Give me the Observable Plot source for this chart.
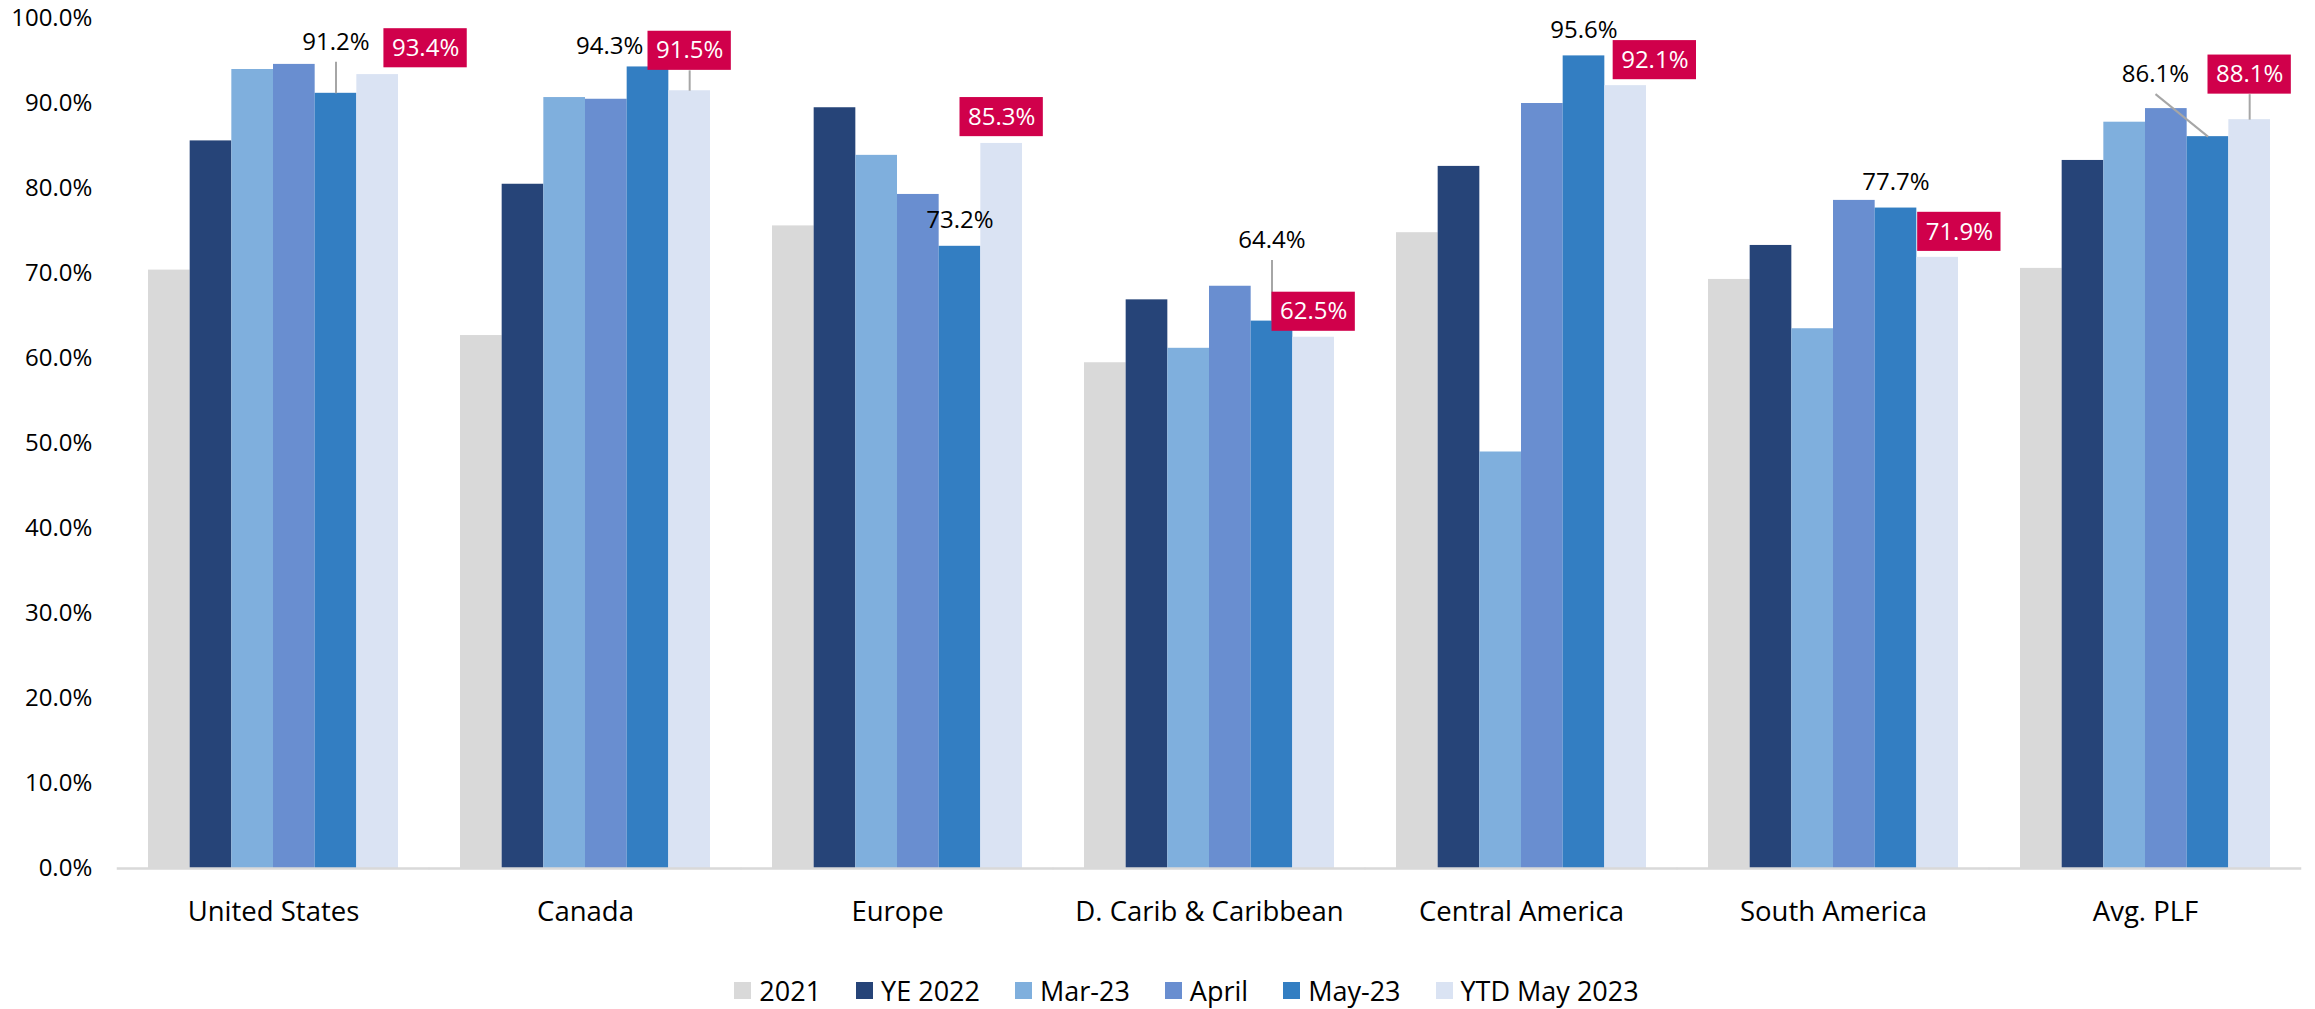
<!DOCTYPE html>
<html>
<head>
<meta charset="utf-8">
<script src="https://cdn.jsdelivr.net/npm/d3@7"></script>
<script src="https://cdn.jsdelivr.net/npm/@observablehq/plot@0.6"></script>
<style>
  html, body { margin: 0; padding: 0; background: #fff; overflow: hidden; }
  body { width: 2315px; height: 1009px; font-family: "Open Sans", sans-serif; }
  #legend { display: flex; justify-content: center; align-items: center; gap: 35px;
            font-size: 27px; color: #000; height: 38px; padding-top: 21px; margin-left: 58px; }
  #legend .item { display: flex; align-items: center; gap: 8px; }
  #legend .sw { width: 17px; height: 17px; display: inline-block; }
</style>
</head>
<body>
<div id="chart"></div>
<div id="legend"></div>
<script>
// ---- data ----
const regions = ["United States", "Canada", "Europe", "D. Carib & Caribbean", "Central America", "South America", "Avg. PLF"];
const seriesNames = ["2021", "YE 2022", "Mar-23", "April", "May-23", "YTD May 2023"];
const v2021   = [70.4, 62.7, 75.6, 59.5, 74.8, 69.3, 70.6];
const vYE2022 = [85.6, 80.5, 89.5, 66.9, 82.6, 73.3, 83.3];
const vMar23  = [94.0, 90.7, 83.9, 61.2, 49.0, 63.5, 87.8];
const vApril  = [94.6, 90.5, 79.3, 68.5, 90.0, 78.6, 89.4];
const vMay23  = [91.2, 94.3, 73.2, 64.4, 95.6, 77.7, 86.1];
const vYTD    = [93.4, 91.5, 85.3, 62.5, 92.1, 71.9, 88.1];
const yTicks  = [0, 10, 20, 30, 40, 50, 60, 70, 80, 90, 100];

// ---- styles / label layout (kept apart from the data) ----
const colors = ["#D9D9D9", "#264478", "#7FAFDD", "#698ED0", "#337EC2", "#DAE3F3"];
const highlight = "#D0004B";
const leaderColor = "#A6A6A6";
// label placement: horizontal offset in bar widths, vertical centre in % units
const mayDx     = [0, -0.92, 0, 0, 0, 0, -1.26];
const mayY      = [97.2, 96.7, 76.2, 73.9, 98.6, 80.7, 93.4];
const mayLeader = [true, false, false, true, false, false, true];
const ytdDx     = [1.15, 0, 0, 0, 0.7, 0.52, 0];
const ytdY      = [96.5, 96.2, 88.4, 65.5, 95.1, 74.9, 93.4];
const ytdLeader = [false, true, false, false, false, false, true];

// ---- build tables ----
const seriesValues = [v2021, vYE2022, vMar23, vApril, vMay23, vYTD];
const bars = [];
regions.forEach((r, ri) => {
  seriesNames.forEach((s, si) => {
    bars.push({region: r, series: s, i: si, value: seriesValues[si][ri]});
  });
});
const fmt = v => v.toFixed(1) + "%";
const mayLabels = regions.map((r, ri) => ({region: r, x: 4 + mayDx[ri], y: mayY[ri], bx: 4, value: vMay23[ri], leader: mayLeader[ri]}));
const ytdLabels = regions.map((r, ri) => ({region: r, x: 5 + ytdDx[ri], y: ytdY[ri], bx: 5, value: vYTD[ri], leader: ytdLeader[ri]}));
const leaders = [...mayLabels, ...ytdLabels].filter(d => d.leader);
const halfH = 2.3;

const W = 2315, H = 950, mL = 115, mR = 12, mT = 18, mB = 82;
const step = (W - mL - mR) / regions.length;
const ext = step * 0.1;               // outer padding of the facet band in px
const extUnits = ext / (step * 0.8 / 6); // same, in bar-width units

const chart = Plot.plot({
  width: W, height: H,
  marginLeft: mL, marginRight: mR, marginTop: mT, marginBottom: mB,
  style: {fontFamily: "'Open Sans', sans-serif", color: "#000", background: "#fff"},
  fx: {domain: regions, paddingInner: 0.2, paddingOuter: 0.1, label: null},
  x: {domain: [-0.5, 5.5], axis: null},
  y: {domain: [0, 100], label: null},
  color: {domain: seriesNames, range: colors},
  marks: [
    Plot.axisY({ticks: yTicks, tickFormat: fmt, tickSize: 0, tickPadding: 25 + ext, fontSize: 24, label: null}),
    Plot.axisFx({anchor: "bottom", tickSize: 0, tickPadding: 33, fontSize: 27.5, label: null}),
    Plot.rect(bars, {fx: "region", x1: d => d.i - 0.5, x2: d => d.i + 0.5, y1: 0, y2: "value", fill: "series"}),
    Plot.ruleY([0], {x1: -0.5 - extUnits, x2: 5.5 + extUnits, stroke: "#D9D9D9", strokeWidth: 2.5}),
    Plot.link(leaders, {fx: "region", x1: "x", y1: d => d.y - halfH, x2: "bx", y2: "value", stroke: leaderColor, strokeWidth: 2}),
    Plot.rect(ytdLabels, {fx: "region", x1: d => d.x - 1, x2: d => d.x + 1, y1: d => d.y - halfH, y2: d => d.y + halfH, fill: highlight}),
    Plot.text(mayLabels, {fx: "region", x: "x", y: "y", text: d => fmt(d.value), fontSize: 24, fill: "#000"}),
    Plot.text(ytdLabels, {fx: "region", x: "x", y: "y", text: d => fmt(d.value), fontSize: 24, fill: "#fff"})
  ]
});
document.getElementById("chart").appendChild(chart);

// ---- legend ----
const legend = document.getElementById("legend");
seriesNames.forEach((s, si) => {
  const item = document.createElement("div");
  item.className = "item";
  const sw = document.createElement("span");
  sw.className = "sw";
  sw.style.background = colors[si];
  const lab = document.createElement("span");
  lab.textContent = s;
  item.appendChild(sw);
  item.appendChild(lab);
  legend.appendChild(item);
});
</script>
</body>
</html>
